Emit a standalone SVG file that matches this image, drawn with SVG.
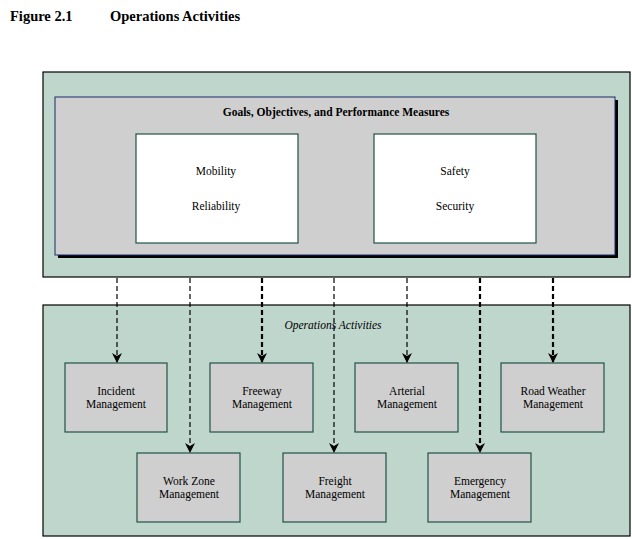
<svg xmlns="http://www.w3.org/2000/svg" width="632" height="539" viewBox="0 0 632 539">
<style>
text{font-family:"Liberation Serif",serif;fill:#000}
.panel{fill:#bfd6cd;stroke:#000;stroke-width:1.2}
.node{fill:#cfcfcf;stroke:#1e5248;stroke-width:1.2}
.wb{fill:#fff;stroke:#1e5248;stroke-width:1.2}
.lbl{font-size:11.5px;text-anchor:middle}
.c{stroke:#000;stroke-width:1.2;stroke-dasharray:5,3;fill:none;marker-end:url(#ah)}
.ct{stroke-width:2.2}
</style>
<defs><marker id="ah" viewBox="0 0 10 10" refX="9" refY="5" markerWidth="10" markerHeight="10" markerUnits="userSpaceOnUse" orient="auto"><path d="M0,0L10,5L0,10L3,5z" fill="#000"/></marker></defs>
<rect width="632" height="539" fill="#fff"/>
<text x="10" y="21" font-size="14.5" font-weight="bold">Figure 2.1</text>
<text x="110" y="21" font-size="14.5" font-weight="bold">Operations Activities</text>
<g id="goals-panel">
<rect class="panel" x="43" y="72" width="587" height="205"/>
<rect x="58" y="100" width="560" height="158" fill="#000"/>
<rect x="55" y="97" width="560" height="158" fill="#cfcfcf" stroke="#1a2a6a" stroke-width="1"/>
<text class="lbl" x="336" y="116" font-weight="bold">Goals, Objectives, and Performance Measures</text>
</g>
<g id="mobility"><rect class="wb" x="136" y="134" width="162" height="109"/><text class="lbl" x="216" y="175">Mobility</text><text class="lbl" x="216" y="210">Reliability</text></g>
<g id="safety"><rect class="wb" x="374" y="134" width="162" height="109"/><text class="lbl" x="455" y="175">Safety</text><text class="lbl" x="455" y="210">Security</text></g>
<g id="ops-panel"><rect class="panel" x="43" y="305" width="587" height="231"/>
<text class="lbl" x="333" y="329" font-style="italic">Operations  Activities</text></g>
<g id="incident"><rect class="node" x="65" y="363" width="102" height="69"/><text class="lbl" x="116" y="395">Incident</text><text class="lbl" x="116" y="408">Management</text></g>
<g id="freeway"><rect class="node" x="210" y="363" width="103" height="69"/><text class="lbl" x="262" y="395">Freeway</text><text class="lbl" x="262" y="408">Management</text></g>
<g id="arterial"><rect class="node" x="355" y="363" width="103" height="69"/><text class="lbl" x="407" y="395">Arterial</text><text class="lbl" x="407" y="408">Management</text></g>
<g id="roadweather"><rect class="node" x="501" y="363" width="103" height="69"/><text class="lbl" x="553" y="395">Road Weather</text><text class="lbl" x="553" y="408">Management</text></g>
<g id="workzone"><rect class="node" x="137" y="453" width="103" height="69"/><text class="lbl" x="189" y="485">Work Zone</text><text class="lbl" x="189" y="498">Management</text></g>
<g id="freight"><rect class="node" x="283" y="453" width="103" height="69"/><text class="lbl" x="335" y="485">Freight</text><text class="lbl" x="335" y="498">Management</text></g>
<g id="emergency"><rect class="node" x="428" y="453" width="103" height="69"/><text class="lbl" x="480" y="485">Emergency</text><text class="lbl" x="480" y="498">Management</text></g>
<g id="connectors">
<path class="c" d="M117,278V362"/>
<path class="c" d="M190,278V452"/>
<path class="c ct" d="M262,278V362"/>
<path class="c" d="M334,278V452"/>
<path class="c" d="M407,278V362"/>
<path class="c ct" d="M480,278V452"/>
<path class="c ct" d="M553,278V362"/>
</g>
</svg>
